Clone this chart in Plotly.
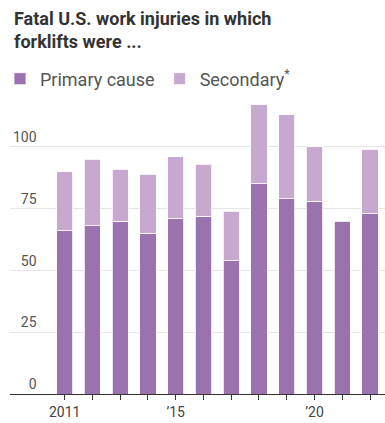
import plotly.graph_objects as go

years = [2011, 2012, 2013, 2014, 2015, 2016, 2017, 2018, 2019, 2020, 2021, 2022]
primary = [66, 68, 70, 65, 71, 72, 54, 85, 79, 78, 70, 73]
secondary = [24, 27, 21, 24, 25, 21, 20, 32, 34, 22, None, 26]

x_tick_text = ["2011", "", "", "", "\u201915", "", "", "", "", "\u201920", "", ""]
y_tick_vals = [0, 25, 50, 75, 100]
y_tick_text = ["\u2007\u20070", "\u200725", "\u200750", "\u200775", "100"]

PRIMARY_COLOR = "#9a72ad"
SECONDARY_COLOR = "#c7a9cf"
FONT = "Roboto"

fig = go.Figure()
fig.add_trace(go.Bar(
    x=years, y=primary, name="Primary cause",
    marker=dict(color=PRIMARY_COLOR, line=dict(color="white", width=0.8)),
    width=0.58,
))
fig.add_trace(go.Bar(
    x=years, y=secondary, name="Secondary<sup>*</sup>",
    marker=dict(color=SECONDARY_COLOR, line=dict(color="white", width=0.8)),
    width=0.58,
))

fig.update_layout(
    barmode="stack",
    width=385, height=423,
    margin=dict(l=10, r=0, t=96, b=29),
    paper_bgcolor="white", plot_bgcolor="white",
    font=dict(family=FONT, color="#555555", size=14),
    legend=dict(
        orientation="h", x=-2 / 385, xanchor="left", xref="container",
        y=1 - 79 / 423, yanchor="middle", yref="container",
        font=dict(family=FONT, size=18, color="#555555"),
        traceorder="normal", itemwidth=30,
        bgcolor="rgba(0,0,0,0)",
    ),
    showlegend=True,
    hovermode=False,
)
fig.add_annotation(
    text="<b>Fatal U.S. work injuries in which<br>forklifts were ...</b>",
    xref="paper", yref="paper", x=2 / 375, y=1 + (96 - 4) / 298,
    xanchor="left", yanchor="top", align="left", showarrow=False,
    font=dict(family=FONT, size=18, color="#333333"),
)

fig.update_xaxes(
    range=[2009.03, 2022.54],
    tickvals=years, ticktext=x_tick_text,
    ticks="outside", ticklen=5, tickcolor="#333333", tickwidth=1,
    showline=True, linecolor="#333333", linewidth=1.2,
    showgrid=False, zeroline=False,
    tickfont=dict(family=FONT, size=14, color="#444444"),
)
fig.update_yaxes(
    range=[0, 120],
    tickvals=y_tick_vals, ticktext=y_tick_text,
    ticklabelposition="inside top",
    showgrid=True, gridcolor="#e6e6e6", gridwidth=1,
    zeroline=False, showline=False, ticks="",
    tickfont=dict(family=FONT, size=14, color="#555555"),
)

fig.write_html(
    "out.html",
    config={"displayModeBar": False, "staticPlot": True},
    post_script="document.body.style.margin='0';document.body.style.overflow='hidden';",
)
